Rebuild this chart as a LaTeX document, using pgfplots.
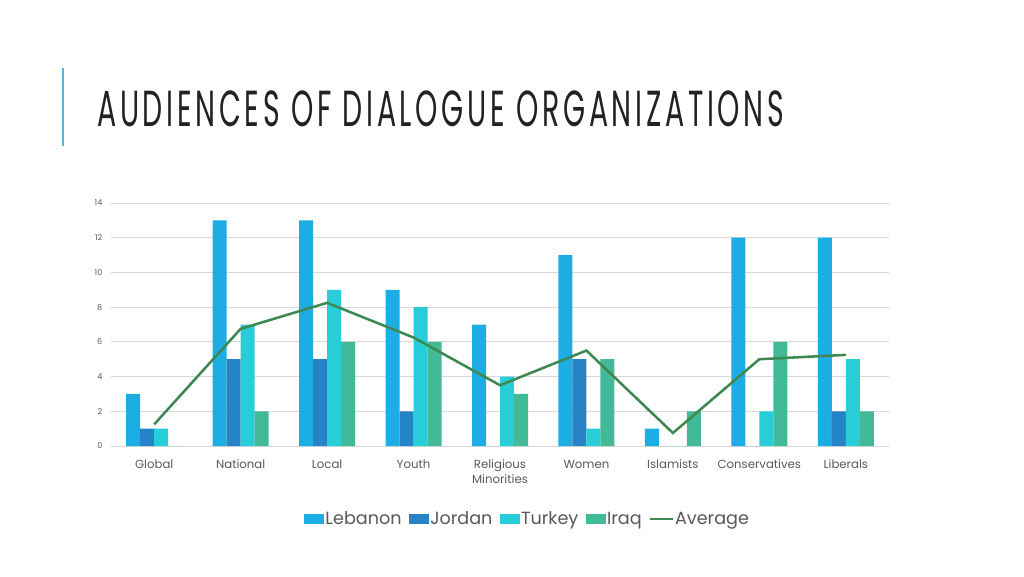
\documentclass[border=0pt]{standalone}
\usepackage{pgfplots}
\pgfplotsset{compat=1.18}
\usepackage{fontspec}
\setmainfont{Poppins}
\newfontfamily\titlefont[FakeStretch=0.56, LetterSpace=7.3]{Poppins}
\definecolor{leb}{HTML}{1CADE4}
\definecolor{jor}{HTML}{2683C6}
\definecolor{tur}{HTML}{27CED7}
\definecolor{irq}{HTML}{42BA97}
\definecolor{avg}{HTML}{3E8853}
\definecolor{accent}{HTML}{5DB5CC}
\definecolor{titlecol}{HTML}{222222}
\definecolor{labcol}{HTML}{595959}
\definecolor{gridcol}{HTML}{D9D9D9}
\pgfplotstableread{
x leb jor tur irq avg
0 3 1 1 0 1.25
1 13 5 7 2 6.75
2 13 5 9 6 8.25
3 9 2 8 6 6.25
4 7 0 4 3 3.5
5 11 5 1 5 5.5
6 1 0 0 2 0.75
7 12 0 2 6 5
8 12 2 5 2 5.25
}\datatable
\begin{document}
\begin{tikzpicture}[x=0.75pt,y=0.75pt]
\fill[white] (0,0) rectangle (1024,576);
\draw[accent, line width=1.5pt] (63,508) -- (63,430);
\node[anchor=base west, inner sep=0, text=titlecol, font=\titlefont\fontsize{38}{38}\selectfont] at (97,450) {AUDIENCES OF DIALOGUE ORGANIZATIONS};
\begin{axis}[
  at={(83.25pt,97.5pt)}, anchor=south west,
  scale only axis, width=583.5pt, height=182.25pt,
  xmin=-0.5, xmax=8.5, ymin=0, ymax=14,
  xtick=data,
  xticklabels={{\strut Global},{\strut National},{\strut Local},{\strut Youth},{\strut Religious\\Minorities},{\strut Women},{\strut Islamists},{\strut Conservatives},{\strut Liberals}},
  ytick={0,2,...,14},
  axis line style={draw=none},
  major tick length=0pt,
  ymajorgrids, grid style={gridcol, line width=0.75pt},
  x tick label style={align=center, anchor=north, text=labcol, font=\fontsize{8.8}{11.5}\selectfont, yshift=-5pt},
  y tick label style={text=labcol, font=\fontsize{6}{6}\selectfont, xshift=-3pt},
  /pgf/number format/assume math mode=true,
  legend style={draw=none, at={(0.535,-0.3)}, anchor=center, legend columns=5,
    font=\fontsize{13.2}{15}\selectfont, text=labcol,
    nodes={inner xsep=1pt},
    /tikz/every odd column/.append style={column sep=0pt},
    /tikz/every even column/.append style={column sep=4.5pt}},
  legend cell align=left,
]
\addplot[ybar, bar width=10.5pt, bar shift=-15.75pt, fill=leb, draw=none,
  legend image code/.code={\fill[leb] (0pt,-3.6pt) rectangle (15pt,3.6pt);}] table[x=x,y=leb]{\datatable};
\addplot[ybar, bar width=10.5pt, bar shift=-5.25pt, fill=jor, draw=none,
  legend image code/.code={\fill[jor] (0pt,-3.6pt) rectangle (15pt,3.6pt);}] table[x=x,y=jor]{\datatable};
\addplot[ybar, bar width=10.5pt, bar shift=5.25pt, fill=tur, draw=none,
  legend image code/.code={\fill[tur] (0pt,-3.6pt) rectangle (15pt,3.6pt);}] table[x=x,y=tur]{\datatable};
\addplot[ybar, bar width=10.5pt, bar shift=15.75pt, fill=irq, draw=none,
  legend image code/.code={\fill[irq] (0pt,-3.6pt) rectangle (15pt,3.6pt);}] table[x=x,y=irq]{\datatable};
\addplot[sharp plot, avg, line width=1.9pt, mark=none,
  legend image code/.code={\draw[avg, line width=1.5pt] (0pt,0pt) -- (17pt,0pt);}] table[x=x,y=avg]{\datatable};
\legend{Lebanon,Jordan,Turkey,Iraq,Average}
\end{axis}
\end{tikzpicture}
\end{document}
